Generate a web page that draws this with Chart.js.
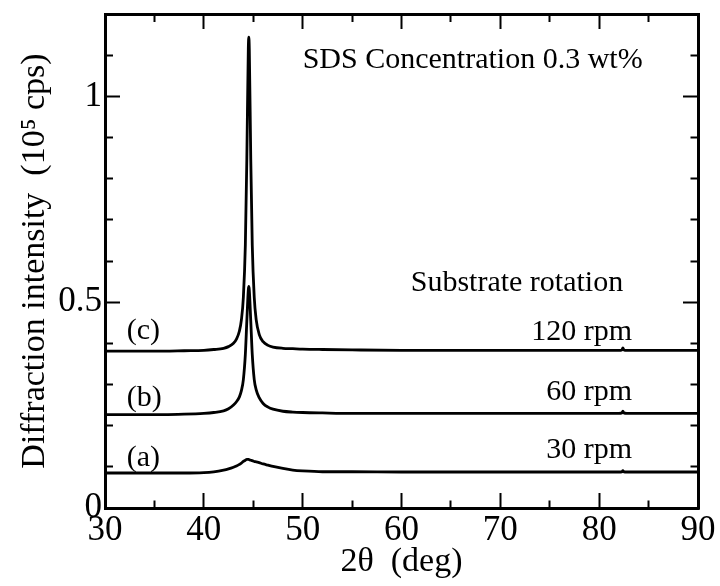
<!DOCTYPE html>
<html>
<head>
<meta charset="utf-8">
<script src="https://cdn.jsdelivr.net/npm/chart.js@4.4.1/dist/chart.umd.min.js"></script>
<style>
  html, body { margin: 0; padding: 0; background: #fff; }
  canvas { display: block; }
</style>
</head>
<body>
<canvas id="chart" width="720" height="586"></canvas>
<script>
// ---- data ----
const twoTheta = [30, 33, 36, 38, 40, 41, 42, 42.5, 43, 43.3, 43.6, 43.8, 44.0, 44.2, 44.35, 44.5, 44.55, 44.6, 44.75, 44.9, 45.1, 45.3, 45.6, 46, 46.5, 47, 48, 49, 50, 52, 55, 60, 65, 70, 75, 80, 82, 82.3, 82.4, 82.5, 82.8, 85, 88, 90];

const intensityA = [0.085, 0.085, 0.085, 0.085, 0.086, 0.088, 0.092, 0.095, 0.099, 0.102, 0.106, 0.109, 0.113, 0.116, 0.118, 0.118, 0.118, 0.117, 0.116, 0.115, 0.113, 0.112, 0.110, 0.107, 0.104, 0.101, 0.096, 0.092, 0.090, 0.088, 0.088, 0.0875, 0.0875, 0.0875, 0.0875, 0.0875, 0.0875, 0.088, 0.091, 0.088, 0.0875, 0.0875, 0.0875, 0.0875];

const intensityB = [0.227, 0.227, 0.227, 0.228, 0.230, 0.232, 0.236, 0.241, 0.250, 0.258, 0.270, 0.285, 0.312, 0.373, 0.454, 0.530, 0.538, 0.530, 0.454, 0.373, 0.312, 0.287, 0.268, 0.254, 0.245, 0.240, 0.235, 0.233, 0.232, 0.231, 0.230, 0.230, 0.230, 0.230, 0.230, 0.230, 0.230, 0.231, 0.235, 0.231, 0.230, 0.230, 0.230, 0.230];

const intensityC = [0.381, 0.381, 0.381, 0.382, 0.383, 0.385, 0.388, 0.392, 0.400, 0.410, 0.430, 0.457, 0.512, 0.639, 0.846, 1.115, 1.144, 1.115, 0.846, 0.639, 0.512, 0.457, 0.422, 0.404, 0.395, 0.391, 0.388, 0.387, 0.386, 0.385, 0.384, 0.383, 0.383, 0.383, 0.383, 0.383, 0.383, 0.384, 0.389, 0.384, 0.383, 0.383, 0.383, 0.383];

const seriesNames = ['(a) 30 rpm', '(b) 60 rpm', '(c) 120 rpm'];
const xLabelTicks = [30, 40, 50, 60, 70, 80, 90];
const yLabelTicks = ['0', '0.5', '1'];

// ---- styling helpers ----
const FONT = "'Liberation Serif', 'Times New Roman', serif";
const toPoints = (ys) => twoTheta.map((x, i) => ({ x: x, y: ys[i] }));

const isMajorX = (v) => Math.abs(v / 10 - Math.round(v / 10)) < 1e-6;
const isMajorY = (v) => Math.abs(v / 0.5 - Math.round(v / 0.5)) < 1e-6;

// minor ticks: shorter, drawn from the frame inward
const dashFromInner = [0, 7, 30];   // left / top axes draw tick from inner end to frame
const dashFromOuter = [9.5, 30];    // bottom / right axes draw tick from frame to inner end

function clearPadding(s) {
  s.paddingTop = 0; s.paddingBottom = 0; s.paddingLeft = 0; s.paddingRight = 0;
}

function xAxis(position, withLabels, dash) {
  return {
    type: 'linear', position: position, min: 30, max: 90,
    afterFit: (s) => { s.height = position === 'bottom' ? 78 : 14; clearPadding(s); },
    border: { display: true, color: '#000', width: 3 },
    grid: {
      display: true, drawOnChartArea: false, drawTicks: true,
      tickLength: -15, tickWidth: 2, tickColor: '#000',
      tickBorderDash: (ctx) => (ctx.tick && isMajorX(ctx.tick.value)) ? [] : dash
    },
    ticks: {
      stepSize: 5, autoSkip: false, maxRotation: 0, padding: 17,
      color: '#000', font: { family: FONT, size: 35 },
      callback: (v) => (withLabels && xLabelTicks.some(t => Math.abs(t - v) < 1e-6)) ? String(v) : ''
    },
    title: withLabels ? {
      display: true, text: '2\u03b8  (deg)', color: '#000',
      font: { family: FONT, size: 34 }, padding: { top: 0, bottom: 4 }
    } : { display: false }
  };
}

function yAxis(position, withLabels, dash) {
  return {
    type: 'linear', position: position, min: 0, max: 1.2,
    afterFit: (s) => { s.width = position === 'left' ? 105 : 22; clearPadding(s); },
    border: { display: true, color: '#000', width: 3 },
    grid: {
      display: true, drawOnChartArea: false, drawTicks: true,
      tickLength: -15, tickWidth: 2, tickColor: '#000',
      tickBorderDash: (ctx) => (ctx.tick && isMajorY(ctx.tick.value)) ? [] : dash
    },
    ticks: {
      stepSize: 0.1, autoSkip: false, padding: 18,
      color: '#000', font: { family: FONT, size: 35 },
      callback: (v) => {
        if (!withLabels) return '';
        const r = Math.round(v * 10);
        if (r % 5 !== 0) return '';
        const lbl = String(r / 10);
        return yLabelTicks.includes(lbl) ? lbl : '';
      }
    },
    title: withLabels ? {
      display: true, text: 'Diffraction intensity  (10\u2075 cps)', color: '#000',
      font: { family: FONT, size: 34 }, padding: { top: 15, bottom: 0 }
    } : { display: false }
  };
}

// ---- text annotations, anchored in data coordinates ----
const notes = [
  { text: 'SDS Concentration 0.3 wt%', x: 50.0, y: 1.070, align: 'left' },
  { text: 'Substrate rotation', x: 82.43, y: 0.528, align: 'right' },
  { text: '120 rpm', x: 83.34, y: 0.409, align: 'right' },
  { text: '60 rpm', x: 83.34, y: 0.263, align: 'right' },
  { text: '30 rpm', x: 83.34, y: 0.122, align: 'right' },
  { text: '(c)', x: 32.2, y: 0.410, align: 'left' },
  { text: '(b)', x: 32.2, y: 0.248, align: 'left' },
  { text: '(a)', x: 32.2, y: 0.101, align: 'left' }
];

const notesPlugin = {
  id: 'notes',
  afterDraw(chart) {
    const { ctx, scales } = chart;
    ctx.save();
    ctx.fillStyle = '#000';
    ctx.font = '30px ' + FONT;
    ctx.textBaseline = 'alphabetic';
    notes.forEach(n => {
      ctx.textAlign = n.align;
      ctx.fillText(n.text, scales.x.getPixelForValue(n.x), scales.y.getPixelForValue(n.y));
    });
    ctx.restore();
  }
};

const lineStyle = {
  borderColor: '#000', borderWidth: 2.8, pointRadius: 0,
  cubicInterpolationMode: 'monotone', fill: false
};

new Chart(document.getElementById('chart'), {
  type: 'line',
  data: {
    datasets: [
      Object.assign({ label: seriesNames[0], data: toPoints(intensityA) }, lineStyle),
      Object.assign({ label: seriesNames[1], data: toPoints(intensityB) }, lineStyle),
      Object.assign({ label: seriesNames[2], data: toPoints(intensityC) }, lineStyle)
    ]
  },
  options: {
    responsive: false,
    devicePixelRatio: 1,
    animation: false,
    layout: { padding: 0 },
    plugins: { legend: { display: false }, tooltip: { enabled: false } },
    scales: {
      x: xAxis('bottom', true, dashFromOuter),
      xTop: xAxis('top', false, dashFromInner),
      y: yAxis('left', true, dashFromInner),
      yRight: yAxis('right', false, dashFromOuter)
    }
  },
  plugins: [notesPlugin]
});
</script>
</body>
</html>
